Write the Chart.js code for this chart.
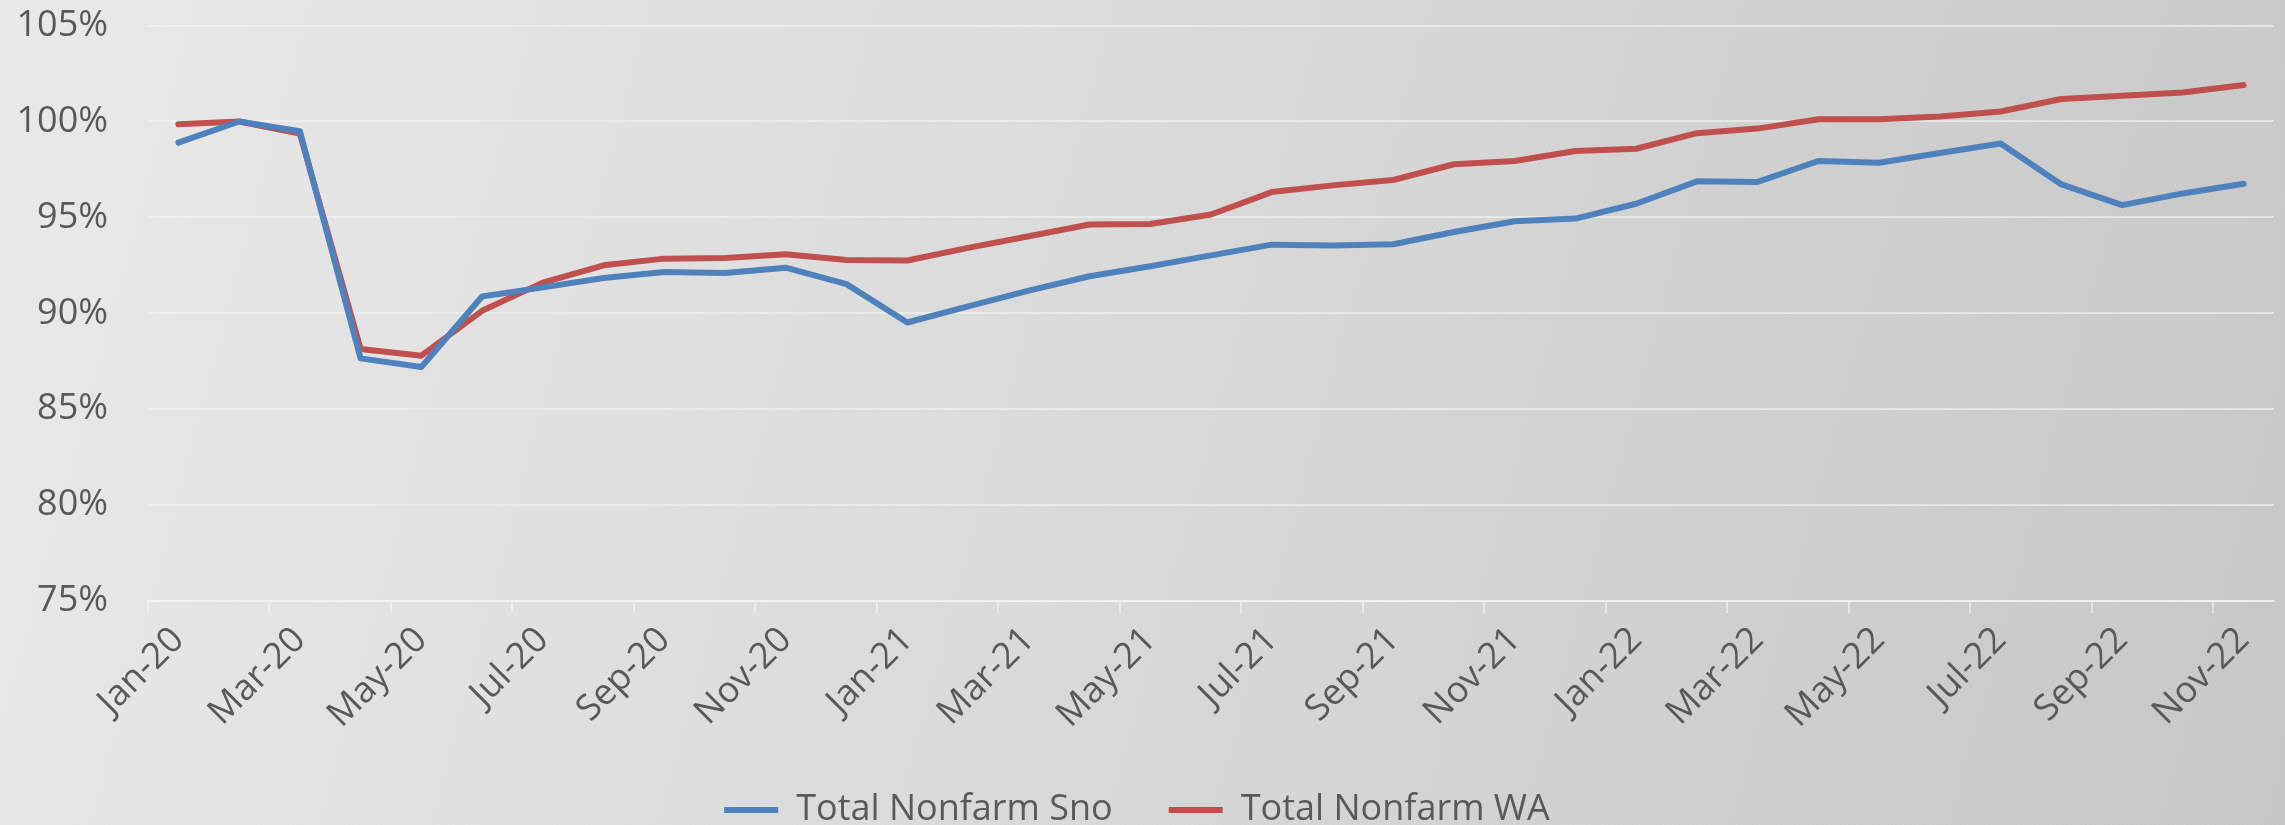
<!DOCTYPE html>
<html>
<head>
<meta charset="utf-8">
<script src="https://cdn.jsdelivr.net/npm/chart.js@4.4.1/dist/chart.umd.min.js"></script>
<style>
  html, body { margin: 0; padding: 0; }
  body {
    position: relative;
    width: 2285px; height: 825px; overflow: hidden;
    background:
      repeating-linear-gradient(120deg, rgba(255,255,255,0.07) 0px, rgba(255,255,255,0.07) 1px, rgba(0,0,0,0) 1px, rgba(0,0,0,0) 4px),
      linear-gradient(105deg, #e9e9e9 0%, #dadada 45%, #c6c6c6 100%);
  }
  /* shifted up so the plot starts close to the top edge, like the original */
  #wrap { position: absolute; left: 0; top: -36px; width: 2285px; height: 861px; }
</style>
</head>
<body>
<div id="wrap"><canvas id="nonfarmChart"></canvas></div>
<script>
// categories (months)
var months = [
  'Jan-20', 'Feb-20', 'Mar-20', 'Apr-20', 'May-20', 'Jun-20', 'Jul-20', 'Aug-20', 'Sep-20', 'Oct-20', 'Nov-20', 'Dec-20',
  'Jan-21', 'Feb-21', 'Mar-21', 'Apr-21', 'May-21', 'Jun-21', 'Jul-21', 'Aug-21', 'Sep-21', 'Oct-21', 'Nov-21', 'Dec-21',
  'Jan-22', 'Feb-22', 'Mar-22', 'Apr-22', 'May-22', 'Jun-22', 'Jul-22', 'Aug-22', 'Sep-22', 'Oct-22', 'Nov-22'
];

// % of Feb-20 level
var nonfarmSno = [98.9, 100.0, 99.5, 87.65, 87.2, 90.88, 91.35, 91.84, 92.15, 92.1, 92.38, 91.52,
  89.52, 90.36, 91.18, 91.93, 92.45, 93.02, 93.58, 93.53, 93.6, 94.24, 94.8, 94.94,
  95.71, 96.88, 96.85, 97.94, 97.85, 98.36, 98.85, 96.72, 95.64, 96.25, 96.75];

var nonfarmWA = [99.86, 100.0, 99.37, 88.14, 87.79, 90.13, 91.6, 92.5, 92.85, 92.88, 93.08, 92.78,
  92.75, 93.41, 94.02, 94.63, 94.66, 95.15, 96.32, 96.67, 96.95, 97.77, 97.94, 98.46,
  98.58, 99.39, 99.63, 100.12, 100.12, 100.26, 100.52, 101.17, 101.34, 101.51, 101.9];

var yMin = 75, yMax = 105, yStep = 5;

var textColor = '#595959';
var gridColor = 'rgba(245, 245, 245, 0.6)';
var fontFamily = '"Open Sans", "DejaVu Sans", sans-serif';

const data = {
  labels: months,
  datasets: [{
    label: 'Total Nonfarm Sno',
    data: nonfarmSno,
    borderColor: '#4F81BD', // blue
    backgroundColor: '#4F81BD',
    borderWidth: 6,
    pointRadius: 0,
    borderJoinStyle: 'round',
    borderCapStyle: 'round',
    tension: 0
  }, {
    label: 'Total Nonfarm WA',
    data: nonfarmWA,
    borderColor: '#C0504D', // red
    backgroundColor: '#C0504D',
    borderWidth: 6,
    pointRadius: 0,
    borderJoinStyle: 'round',
    borderCapStyle: 'round',
    tension: 0
  }]
};

const config = {
  type: 'line',
  data: data,
  options: {
    responsive: true,
    maintainAspectRatio: false,
    animation: false,
    layout: {
      padding: { left: 0, right: 11, top: 0, bottom: -13 }
    },
    scales: {
      x: {
        offset: true,
        grid: {
          offset: true,
          drawOnChartArea: false,
          drawTicks: true,
          tickLength: 12,
          lineWidth: 2,
          color: function (ctx) { return ctx.index % 2 === 0 ? gridColor : 'rgba(0,0,0,0)'; }
        },
        border: { display: true, color: gridColor, width: 2 },
        ticks: {
          autoSkip: false,
          minRotation: 45,
          maxRotation: 45,
          padding: 6,
          color: textColor,
          font: { family: fontFamily, size: 36 },
          callback: function (value, index) {
            return index % 2 === 0 ? this.getLabelForValue(value) : '';
          }
        },
        afterFit: function (scale) { scale.height = 135; }
      },
      y: {
        min: yMin,
        max: yMax,
        ticks: {
          stepSize: yStep,
          padding: 40,
          color: textColor,
          font: { family: fontFamily, size: 36 },
          callback: function (value) { return value + '%'; }
        },
        grid: {
          drawTicks: false,
          lineWidth: 2,
          color: gridColor
        },
        border: { display: false },
        afterFit: function (scale) { scale.width = 148; }
      }
    },
    plugins: {
      legend: {
        position: 'bottom',
        labels: {
          usePointStyle: true,
          pointStyle: 'line',
          pointStyleWidth: 54,
          boxHeight: 6,
          padding: 56,
          color: textColor,
          font: { family: fontFamily, size: 36, lineHeight: 1.0 }
        }
      },
      tooltip: { enabled: false }
    }
  }
};

var nonfarmChart = new Chart(
  document.getElementById('nonfarmChart').getContext('2d'),
  config
);
</script>
</body>
</html>
